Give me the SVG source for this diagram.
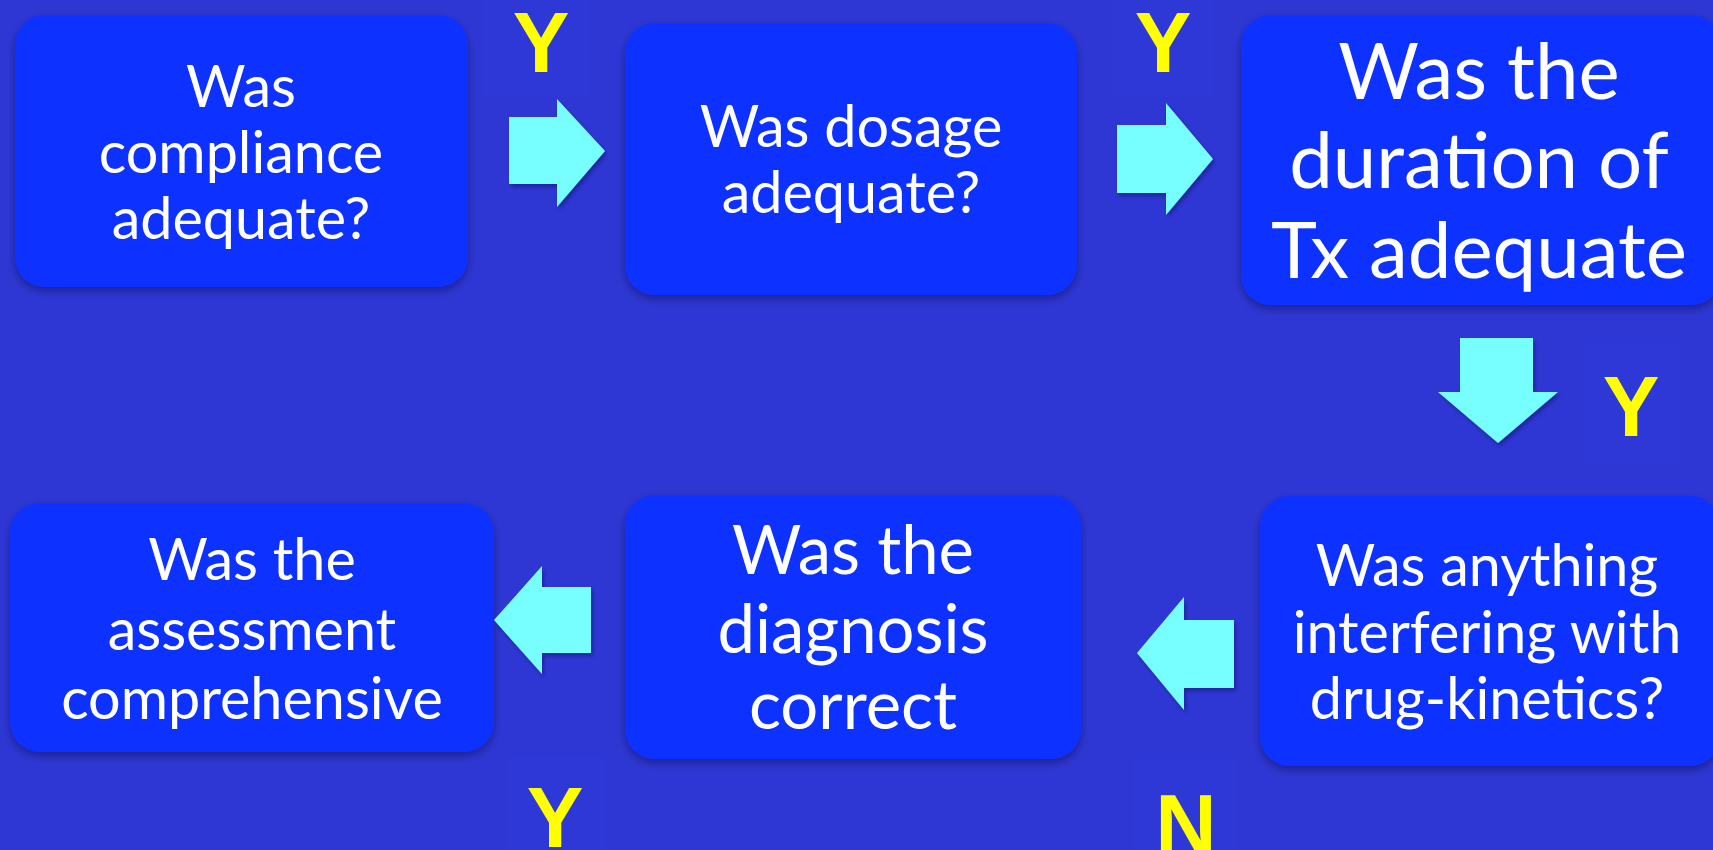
<svg xmlns="http://www.w3.org/2000/svg" width="1713" height="850" viewBox="0 0 1713 850">
<defs>
<style>
.bg{fill:#2E37D4}
.lblbg{fill:#2E38D7}
.box{fill:#0F30FF;filter:url(#sh)}
.arr{fill:#77FFFF;filter:url(#sh2)}
.t{fill:#FFFFFF;font-family:Lato,"Open Sans",sans-serif;font-size:57.5px;text-anchor:middle}
.tl{font-size:78px}
.tm{font-size:67px}
.yn{fill:#FFFF00;font-family:"Liberation Sans",Arial,sans-serif;font-weight:bold;font-size:85px;text-anchor:middle}
</style>
<filter id="sh" x="-10%" y="-10%" width="120%" height="130%">
<feDropShadow dx="0" dy="4" stdDeviation="4" flood-color="#000033" flood-opacity="0.4"/>
</filter>
<filter id="sh2" x="-20%" y="-20%" width="140%" height="140%">
<feDropShadow dx="2" dy="3" stdDeviation="2" flood-color="#000033" flood-opacity="0.35"/>
</filter>
</defs>
<rect class="bg" x="0" y="0" width="1713" height="850"/>

<g id="node-compliance">
<rect class="box" x="15" y="15" width="453" height="272" rx="30"/>
<text class="t" x="241"><tspan x="241" y="107">Was</tspan><tspan x="241" y="173">compliance</tspan><tspan x="241" y="239">adequate?</tspan></text>
</g>
<g id="node-dosage">
<rect class="box" x="625" y="23" width="452" height="272" rx="30"/>
<text class="t" x="851"><tspan x="851" y="147">Was dosage</tspan><tspan x="851" y="213">adequate?</tspan></text>
</g>
<g id="node-duration">
<rect class="box" x="1241" y="15" width="480" height="290" rx="30"/>
<text class="t tl" x="1479"><tspan x="1479" y="99">Was the</tspan><tspan x="1479" y="188">duration of</tspan><tspan x="1479" y="278">Tx adequate</tspan></text>
</g>
<g id="node-kinetics">
<rect class="box" x="1260" y="496" width="460" height="270" rx="30"/>
<text class="t" x="1487"><tspan x="1487" y="586">Was anything</tspan><tspan x="1487" y="653">interfering with</tspan><tspan x="1487" y="719">drug-kinetics?</tspan></text>
</g>
<g id="node-diagnosis">
<rect class="box" x="625" y="495" width="456" height="264" rx="30"/>
<text class="t tm" x="853"><tspan x="853" y="574">Was the</tspan><tspan x="853" y="653">diagnosis</tspan><tspan x="853" y="729">correct</tspan></text>
</g>
<g id="node-assessment">
<rect class="box" x="10" y="503" width="484" height="249" rx="30"/>
<text class="t" x="252"><tspan x="252" y="580">Was the</tspan><tspan x="252" y="650">assessment</tspan><tspan x="252" y="719">comprehensive</tspan></text>
</g>

<g id="connectors">
<polygon class="arr" points="509,117 557,117 557,99 605,151 557,207 557,184 509,184"/>
<polygon class="arr" points="1117,125 1166,125 1166,103 1213,159 1166,215 1166,193 1117,193"/>
<polygon class="arr" points="1460,338 1533,338 1533,392 1558,392 1498,443 1438,392 1460,392"/>
<polygon class="arr" points="1234,620 1184,620 1184,597 1137,653 1184,710 1184,688 1234,688"/>
<polygon class="arr" points="591,587 542,587 542,566 494,620 542,674 542,653 591,653"/>
<g id="labels">
<rect class="lblbg" x="482" y="0" width="108" height="97"/>
<text class="yn" x="541" y="72">Y</text>
<rect class="lblbg" x="1113" y="0" width="100" height="97"/>
<text class="yn" x="1163" y="72">Y</text>
<rect class="lblbg" x="1583" y="342" width="97" height="121"/>
<text class="yn" x="1631" y="436">Y</text>
<rect class="lblbg" x="507" y="756" width="98" height="94"/>
<text class="yn" x="555" y="847">Y</text>
<rect class="lblbg" x="1132" y="760" width="106" height="90"/>
<text class="yn" x="1186" y="854">N</text>
</g>
</g>
</svg>
